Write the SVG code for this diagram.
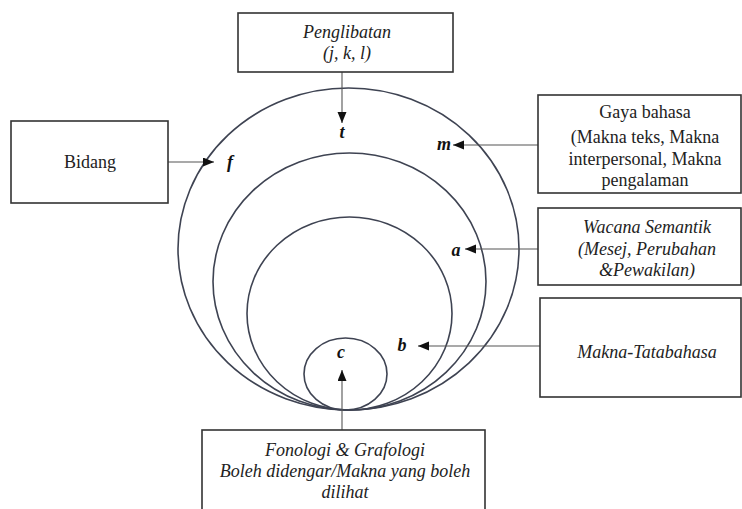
<svg xmlns="http://www.w3.org/2000/svg" width="742" height="509" viewBox="0 0 742 509">
  <defs>
    <marker id="ah" markerUnits="userSpaceOnUse" markerWidth="12" markerHeight="10" refX="11" refY="4.5" orient="auto">
      <path d="M0,0 L11,4.5 L0,9 Z" fill="#111"/>
    </marker>
    <style>
      .box { fill: #fff; stroke: #333; stroke-width: 1.6; }
      .ring { fill: none; stroke: #3e4352; stroke-width: 1.6; }
      .conn { fill: none; stroke: #555; stroke-width: 1.1; marker-end: url(#ah); }
      text { font-family: 'Liberation Serif', 'DejaVu Serif', serif; }
      .t { font-size: 18px; fill: #222; text-anchor: middle; }
      .i { font-style: italic; }
      .lbl { font-size: 18px; font-weight: bold; font-style: italic; fill: #111; text-anchor: middle; }
    </style>
  </defs>
  <rect width="742" height="509" fill="#fff"/>

  <g id="rings">
    <ellipse class="ring" cx="348.5" cy="249" rx="170.5" ry="161"/>
    <ellipse class="ring" cx="349.5" cy="281.5" rx="136.5" ry="128.5"/>
    <ellipse class="ring" cx="349.5" cy="313.5" rx="102.5" ry="96.5"/>
    <ellipse class="ring" cx="345.5" cy="374" rx="41.5" ry="36"/>
  </g>

  <g id="ring-labels">
    <text class="lbl" x="342" y="138">t</text>
    <text class="lbl" x="230" y="168">f</text>
    <text class="lbl" x="444" y="150">m</text>
    <text class="lbl" x="456" y="256">a</text>
    <text class="lbl" x="402" y="351">b</text>
    <text class="lbl" x="341" y="358">c</text>
  </g>

  <g id="connectors">
    <line class="conn" x1="342" y1="72" x2="342" y2="123"/>
    <line class="conn" x1="168" y1="162" x2="214" y2="162"/>
    <line class="conn" x1="538" y1="145" x2="453" y2="145"/>
    <line class="conn" x1="538" y1="249" x2="465" y2="249"/>
    <line class="conn" x1="540" y1="346" x2="418" y2="346"/>
    <line class="conn" x1="342" y1="430" x2="342" y2="370"/>
  </g>

  <g id="penglibatan">
    <rect class="box" x="238" y="13" width="215" height="59"/>
    <text class="t i" x="347" y="38">Penglibatan</text>
    <text class="t i" x="347" y="59">(j, k, l)</text>
  </g>

  <g id="bidang">
    <rect class="box" x="11" y="121" width="157" height="82"/>
    <text class="t" x="90" y="168">Bidang</text>
  </g>

  <g id="gaya-bahasa">
    <rect class="box" x="538" y="95" width="203" height="98"/>
    <text class="t" x="645" y="118">Gaya bahasa</text>
    <text class="t" x="645" y="143">(Makna teks, Makna</text>
    <text class="t" x="645" y="165">interpersonal, Makna</text>
    <text class="t" x="645" y="186">pengalaman</text>
  </g>

  <g id="wacana-semantik">
    <rect class="box" x="538" y="208" width="203" height="77"/>
    <text class="t i" x="647" y="233">Wacana Semantik</text>
    <text class="t i" x="647" y="255">(Mesej, Perubahan</text>
    <text class="t i" x="647" y="276">&amp;Pewakilan)</text>
  </g>

  <g id="makna-tatabahasa">
    <rect class="box" x="540" y="298" width="201" height="99"/>
    <text class="t i" x="647" y="358">Makna-Tatabahasa</text>
  </g>

  <g id="fonologi">
    <rect class="box" x="202" y="430" width="283" height="90"/>
    <text class="t i" x="345" y="456">Fonologi &amp; Grafologi</text>
    <text class="t i" x="345" y="477">Boleh didengar/Makna yang boleh</text>
    <text class="t i" x="345" y="498">dilihat</text>
  </g>
</svg>
